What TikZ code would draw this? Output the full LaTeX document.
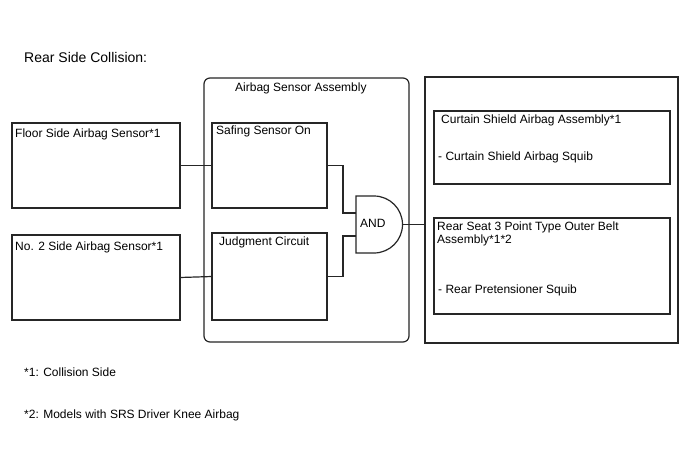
\documentclass[tikz,border=0pt]{standalone}
\usepackage{fontspec}
\setmainfont{Liberation Sans}
\begin{document}
\begin{tikzpicture}[x=1pt,y=-1pt,
  box/.style={draw=black!85,line width=1.2pt,inner sep=0pt,outer sep=0pt},
  lbl/.style={anchor=base west,inner sep=0pt,font=\fontsize{12}{14}\selectfont},
  wire/.style={draw=black!85,line width=1.2pt}]
\useasboundingbox[fill=white] (0,0) rectangle (688,463);
\node[lbl,font=\fontsize{14}{16}\selectfont] (title) at (24,62) {Rear Side Collision:};
% left sensors
\node[box,minimum width=168,minimum height=85] (floor) at (96,165.5) {};
\node[lbl] (floort) at (15,137) {Floor Side Airbag Sensor*1};
\node[box,minimum width=168,minimum height=85] (side2) at (96,277.5) {};
\node[lbl] (side2t) at (15,250) {No. 2 Side Airbag Sensor*1};
% airbag sensor assembly
\node[box,rounded corners=6pt,minimum width=205,minimum height=264] (asm) at (306.5,210) {};
\node[lbl] (asmt) at (235,91) {Airbag Sensor Assembly};
\node[box,minimum width=115,minimum height=85] (safing) at (269.5,165.5) {};
\node[lbl] (safingt) at (216,134) {Safing Sensor On};
\node[box,minimum width=115,minimum height=87] (judge) at (269.5,276.5) {};
\node[lbl] (judget) at (219,245) {Judgment Circuit};
% AND gate
\draw[wire] (356,196) -- (374,196) arc[start angle=270,end angle=450,radius=28.5] -- (356,253) -- cycle;
\node[lbl] (andt) at (360,227) {AND};
\coordinate (and1) at (356,213);
\coordinate (and2) at (356,236);
\coordinate (andout) at (402.5,224.5);
% right
\node[box,minimum width=253,minimum height=266] (outer) at (551.5,210) {};
\node[box,minimum width=236,minimum height=73] (curtain) at (552,147.5) {};
\node[lbl] (curtt1) at (441,123) {Curtain Shield Airbag Assembly*1};
\node[lbl] (curtt2) at (438,160) {- Curtain Shield Airbag Squib};
\node[box,minimum width=236,minimum height=96] (belt) at (552,266) {};
\node[lbl] (beltt1) at (437,230) {Rear Seat 3 Point Type Outer Belt};
\node[lbl] (beltt2) at (437,243) {Assembly*1*2};
\node[lbl] (beltt3) at (438,293) {- Rear Pretensioner Squib};
% connectors
\draw[wire] (floor.east) -- (safing.west);
\draw[wire] (side2.east) -- (judge.west);
\draw[wire] (safing.east) -- ++(16,0) |- (and1);
\draw[wire] (judge.east) -- ++(16,0) |- (and2);
\draw[wire] (andout) -- (andout -| outer.west);
% footnotes
\node[lbl] (fn1) at (24,376) {*1: Collision Side};
\node[lbl] (fn2) at (24,418) {*2: Models with SRS Driver Knee Airbag};
\end{tikzpicture}
\end{document}
